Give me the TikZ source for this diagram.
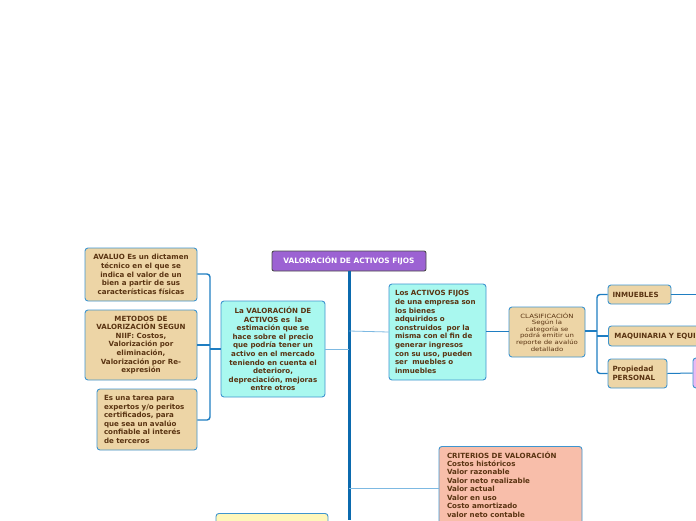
\documentclass[tikz,border=0pt]{standalone}
\usepackage{fontspec}
\setmainfont{DejaVu Sans}
\newfontfamily\clasfont[FakeStretch=1.2]{DejaVu Sans}
\definecolor{txt}{HTML}{5A3412}
\definecolor{bord}{HTML}{3F95CF}
\definecolor{tan}{HTML}{EDD5A6}
\definecolor{cyanf}{HTML}{A9F8EF}
\definecolor{salm}{HTML}{F8BEAA}
\definecolor{yel}{HTML}{FFF7BA}
\definecolor{pink}{HTML}{EBB8F2}
\definecolor{purp}{HTML}{9C62D3}
\definecolor{trunkc}{HTML}{0B6AAE}
\definecolor{thinc}{HTML}{7DB9E2}
\definecolor{brc}{HTML}{1F7EC2}
\tikzset{
  box/.style={draw=bord, line width=0.9pt, rounded corners=3pt, text=txt,
    font=\fontsize{7.1}{8.6}\selectfont\bfseries, inner sep=2pt, align=center},
  thinline/.style={draw=thinc, line width=0.8pt},
  brline/.style={draw=brc, line width=1.4pt, rounded corners=3pt},
  trunk/.style={draw=trunkc, line width=3pt}
}
\begin{document}
\begin{tikzpicture}[x=1pt,y=-1pt]
\clip (0,0) rectangle (696,520);
\fill[white] (0,0) rectangle (696,520);
% title
\node[box, fill=purp, draw=black!70, rounded corners=2pt, text=white, minimum width=154pt, minimum height=20pt, font=\fontsize{7.4}{8}\selectfont\bfseries] (title) at (349,261) {VALORACIÓN DE ACTIVOS FIJOS};
% trunk coordinates
\coordinate (tL) at (349,349);
\coordinate (tR) at (349,331);
\coordinate (tC) at (349,488);
\coordinate (tEnd) at (349,520);
\draw[trunk] (title.south) -- (tEnd);
% left main node
\node[box, fill=cyanf, minimum width=104pt, minimum height=96pt] (left) at (273,349) {La VALORACIÓN DE\\ACTIVOS es\ \ la\\estimación que se\\hace sobre el precio\\que podría tener un\\activo en el mercado\\teniendo en cuenta el\\deterioro,\\depreciación, mejoras\\entre otros};
\node[box, fill=tan, minimum width=112pt, minimum height=53pt] (aval) at (141,274.5) {AVALUO Es un dictamen\\técnico en el que se\\indica el valor de un\\bien a partir de sus\\características físicas};
\node[box, fill=tan, minimum width=112pt, minimum height=70pt] (met) at (141,345) {METODOS DE\\VALORIZACIÓN SEGUN\\NIIF: Costos,\\Valorización por\\eliminación,\\Valorización por Re-\\expresión};
\node[box, fill=tan, minimum width=100pt, minimum height=61pt, text width=86pt, align=left] (tarea) at (147,419.5) {Es una tarea para\\expertos y/o peritos\\certificados, para\\que sea un avalúo\\confiable al interés\\de terceros};
% right main node
\node[box, fill=cyanf, minimum width=97pt, minimum height=96pt, text width=85pt, align=left] (act) at (437.5,332) {Los ACTIVOS FIJOS\\de una empresa son\\los bienes\\adquiridos o\\construidos\ \ por la\\misma con el fin de\\generar ingresos\\con su uso, pueden\\ser\ \ muebles o\\inmuebles};
\node[box, fill=tan, minimum width=76pt, minimum height=50pt, font=\clasfont\fontsize{5.8}{6.6}\selectfont] (clas) at (547,332) {CLASIFICACIÓN\\Según la\\categoría se\\podrá emitir un\\reporte de avalúo\\detallado};
\node[box, fill=tan, minimum width=63pt, minimum height=19pt, text width=54pt, align=left] (inm) at (639.5,294.5) {INMUEBLES};
\node[box, fill=tan, minimum height=20pt, inner xsep=6pt, anchor=west] (maq) at (608,336) {MAQUINARIA Y EQUIPO};
\node[box, fill=tan, minimum width=59pt, minimum height=29pt, text width=50pt, align=left] (prop) at (637.5,373.5) {Propiedad\\PERSONAL};
\node[box, fill=pink, minimum width=66pt, minimum height=30pt] (pink) at (726,373) {};
\coordinate (inmEnd) at (696,294.5);
% criterios
\node[box, fill=salm, inner xsep=8pt, inner ysep=5pt, align=left, anchor=north, font=\fontsize{7.1}{8.45}\selectfont\bfseries] (crit) at (510.5,446) {\begin{minipage}[t][100pt][t]{127pt}\raggedright CRITERIOS DE VALORACIÓN\\Costos históricos\\Valor razonable\\Valor neto realizable\\Valor actual\\Valor en uso\\Costo amortizado\\valor neto contable\end{minipage}};
% yellow bottom node
\node[box, fill=yel, minimum width=112pt, minimum height=50pt, anchor=north] (yel) at (272,513) {};
% connectors from trunk
\draw[thinline] (tL) -- (left.east);
\draw[thinline] (tR) -- (act.west);
\draw[thinline] (tC) -- (crit.west |- tC);
% left bracket
\coordinate (lb) at (210,349);
\draw[brline] (aval.east |- 0,274) -| (lb) |- (tarea.east |- 0,420);
\draw[brline] (met.east) -- (210,345);
\draw[brline] (lb) -- (left.west);
% right side
\draw[thinline, draw=brc, line width=1pt] (act.east |- 0,331) -- (clas.west |- 0,331);
\coordinate (rb) at (597,331);
\draw[brline] (clas.east |- rb) -- (rb);
\draw[brline] (inm.west) -| (rb) |- (prop.west);
\draw[brline] (rb |- maq.west) -- (maq.west);
\draw[draw=brc, line width=1pt] (inm.east) -- (inmEnd);
\draw[draw=brc, line width=1pt] (prop.east) -- (pink.west);
\end{tikzpicture}
\end{document}
